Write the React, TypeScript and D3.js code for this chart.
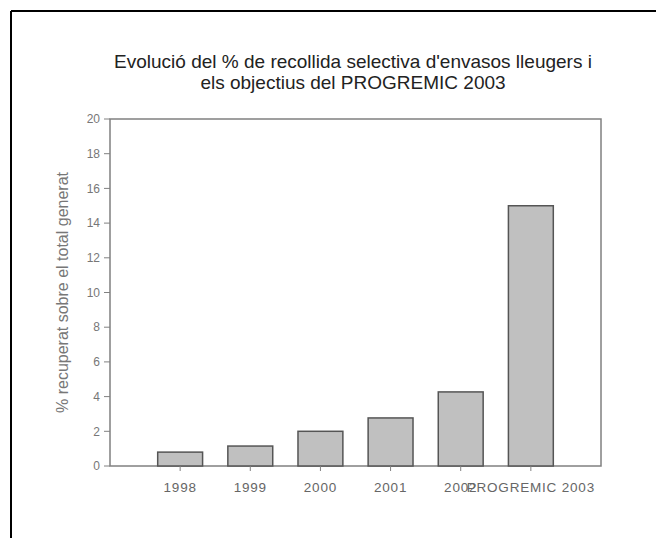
import React from "react";
import * as d3 from "d3";

const categories = ["1998", "1999", "2000", "2001", "2002", "PROGREMIC 2003"];
const values = [0.8, 1.15, 2.0, 2.77, 4.27, 15];
const yTicks = [0, 2, 4, 6, 8, 10, 12, 14, 16, 18, 20];
const titleLines = [
  "Evolució del % de recollida selectiva d'envasos lleugers i",
  "els objectius del PROGREMIC 2003",
];
const yTitle = "% recuperat sobre el total generat";

export default function App() {
  const W = 656;
  const H = 538;
  const left = 110, right = 601, top = 119, bottom = 466;
  const x = d3.scaleLinear().domain([0, categories.length + 1]).range([left, right]);
  const y = d3.scaleLinear().domain([0, 20]).range([bottom, top]);
  const barW = (x(1) - x(0)) * 0.64;
  const font = "Liberation Sans, Arial, sans-serif";
  return (
    <svg width={W} height={H} style={{ position: "absolute", left: 0, top: 0 }}>
      <rect x={0} y={0} width={W} height={H} fill="#fff" />
      {/* outer frame */}
      <line x1={11} y1={11} x2={W} y2={11} stroke="#000" strokeWidth={2} />
      <line x1={11} y1={11} x2={11} y2={H} stroke="#000" strokeWidth={2} />
      {titleLines.map((t, i) => (
        <text key={i} x={353} y={68 + i * 21} textAnchor="middle" fontFamily={font} fontSize={19} fill="#222">
          {t}
        </text>
      ))}
      {/* plot frame */}
      <rect x={left} y={top} width={right - left} height={bottom - top} fill="none" stroke="#808080" strokeWidth={1.5} />
      {/* bars */}
      {values.map((v, i) => (
        <rect
          key={i}
          x={x(i + 1) - barW / 2}
          y={y(v)}
          width={barW}
          height={bottom - y(v)}
          fill="#c0c0c0"
          stroke="#555"
          strokeWidth={1.5}
        />
      ))}
      {/* y ticks */}
      {yTicks.map((t) => (
        <g key={t}>
          <line x1={left - 6} x2={left} y1={y(t)} y2={y(t)} stroke="#808080" />
          <text x={left - 10} y={y(t)} dy="0.35em" textAnchor="end" fontFamily={font} fontSize={12} fill="#777">
            {t}
          </text>
        </g>
      ))}
      {/* x ticks */}
      {categories.map((c, i) => (
        <g key={c}>
          <line x1={x(i + 1)} x2={x(i + 1)} y1={bottom} y2={bottom + 5} stroke="#808080" />
          <text
            x={x(i + 1)}
            y={bottom + 26}
            textAnchor="middle"
            fontFamily={font}
            fontSize={13.5}
            letterSpacing={0.8}
            fill="#666"
          >
            {c}
          </text>
        </g>
      ))}
      <text
        transform={`translate(68, ${(top + bottom) / 2}) rotate(-90)`}
        textAnchor="middle"
        fontFamily={font}
        fontSize={16}
        fill="#777"
      >
        {yTitle}
      </text>
    </svg>
  );
}
